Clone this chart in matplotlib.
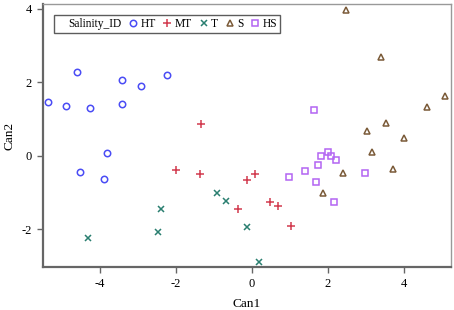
import matplotlib
matplotlib.use('Agg')
import matplotlib.pyplot as plt
from matplotlib.lines import Line2D

plt.rcParams['font.family'] = ['Liberation Serif', 'DejaVu Serif']
plt.rcParams['axes.unicode_minus'] = False

# canonical scores
ht_x = [-5.37, -4.89, -4.60, -4.26, -3.43, -3.43, -2.92, -2.24, -3.82, -4.53, -3.89]
ht_y = [1.45, 1.35, 2.27, 1.29, 2.05, 1.40, 1.90, 2.20, 0.06, -0.45, -0.64]

mt_x = [-1.33, -1.99, -1.36, -0.12, 0.08, -0.37, 0.47, 0.68, 1.02]
mt_y = [0.86, -0.39, -0.51, -0.67, -0.50, -1.44, -1.27, -1.38, -1.92]

t_x = [-4.32, -2.39, -2.46, -0.93, -0.68, -0.13, 0.18]
t_y = [-2.24, -1.45, -2.08, -1.02, -1.23, -1.95, -2.90]

s_x = [2.47, 3.39, 5.09, 4.62, 3.54, 3.02, 4.00, 3.17, 2.40, 3.71, 1.86]
s_y = [3.95, 2.68, 1.62, 1.31, 0.88, 0.68, 0.48, 0.10, -0.48, -0.37, -1.03]

hs_x = [1.64, 1.99, 1.82, 2.09, 2.20, 1.75, 1.40, 0.97, 1.68, 2.97, 2.17]
hs_y = [1.23, 0.10, 0.00, 0.00, -0.13, -0.25, -0.41, -0.58, -0.72, -0.48, -1.26]

groups = [
    ('HT', ht_x, ht_y, 'o', '#4a4cf5', 4.6),
    ('MT', mt_x, mt_y, '+', '#d23a4e', 6.0),
    ('T', t_x, t_y, 'x', '#2a7f70', 5.0),
    ('S', s_x, s_y, '^', '#7a5a38', 4.8),
    ('HS', hs_x, hs_y, 's', '#b365f2', 4.6),
]

fig = plt.figure(figsize=(4.54, 3.10), dpi=100)
ax = fig.add_axes([0.0947, 0.1387, 0.8987, 0.848])

handles = [Line2D([], [], linestyle='none', marker=None)]
labels = ['Salinity_ID']
for name, xs, ys, m, c, ms in groups:
    h, = ax.plot(xs, ys, linestyle='none', marker=m, markersize=ms,
                 markerfacecolor='none', markeredgecolor=c, markeredgewidth=1.1)
    handles.append(h)
    labels.append(name)

ax.set_xlim(-5.5, 5.24)
ax.set_ylim(-3.03, 4.12)
ax.set_xticks([-4, -2, 0, 2, 4])
ax.set_yticks([-2, 0, 2, 4])
ax.tick_params(direction='out', length=4, width=1, color='#666666',
               labelsize=9, pad=4)

for side in ['left', 'bottom']:
    ax.spines[side].set_color('#666666')
    ax.spines[side].set_linewidth(1.6)
for side in ['top', 'right']:
    ax.spines[side].set_color('#999999')
    ax.spines[side].set_linewidth(1.0)

ax.set_xlabel('Can1', fontsize=9.5, labelpad=6)
ax.set_ylabel('Can2', fontsize=9.5, labelpad=4)

leg = ax.legend(handles, labels, ncol=6, loc='upper left',
                bbox_to_anchor=(0.028, 0.957), fontsize=8.3,
                handlelength=0.6, handletextpad=0.35, columnspacing=0.7,
                borderpad=0.25, borderaxespad=0, fancybox=False, frameon=True)
leg.get_frame().set_edgecolor('#333333')
leg.get_frame().set_linewidth(1.0)

fig.savefig('out.png', dpi=100)
